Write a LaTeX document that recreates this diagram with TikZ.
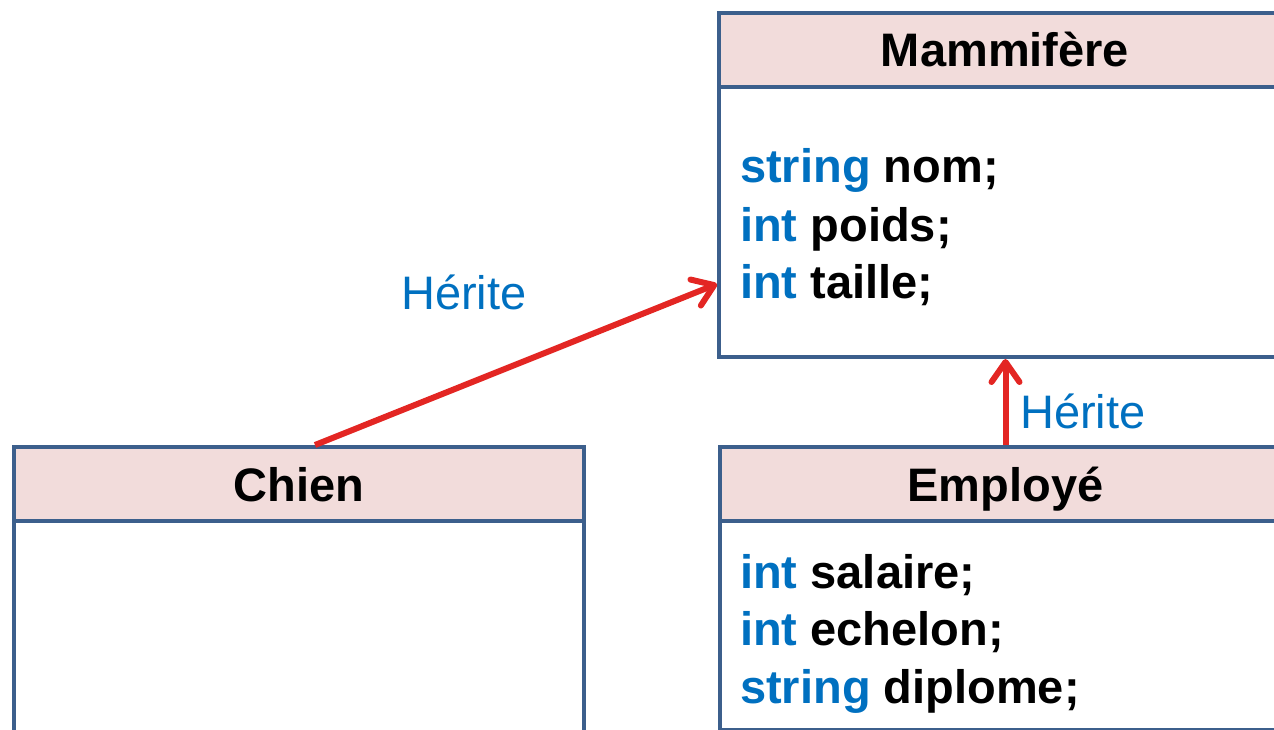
\documentclass[tikz,border=0pt]{standalone}
\usepackage{fontspec}
\setmainfont{Liberation Sans}
\usetikzlibrary{arrows.meta}
\definecolor{boxline}{RGB}{60,95,140}
\definecolor{headfill}{RGB}{242,220,219}
\definecolor{kw}{RGB}{0,112,192}
\definecolor{arr}{RGB}{227,38,35}
\tikzset{
  classhead/.style={draw=boxline, line width=4pt, fill=headfill, rectangle, inner sep=0pt,
    anchor=north west, minimum height=74pt, text height=34pt, text depth=0pt,
    font=\fontsize{47}{56}\selectfont\bfseries},
  classbody/.style={draw=boxline, line width=4pt, fill=white, rectangle, inner sep=0pt, anchor=north west},
  attr/.style={anchor=base west, inner sep=0pt, font=\fontsize{47}{56}\selectfont\bfseries},
  inherit/.style={draw=arr, line width=6pt, -{Straight Barb[length=20pt,width=28pt,line cap=round,line join=round]}},
  herlabel/.style={anchor=base west, inner sep=0pt, text=kw, font=\fontsize{47}{56}\selectfont}
}
\begin{document}
\begin{tikzpicture}[x=1pt,y=-1pt]
\useasboundingbox (0,0) rectangle (1274,730);
\clip (0,0) rectangle (1274,730);
% Mammifere
\node[classbody, minimum width=572pt, minimum height=270pt] (mamB) at (717,85) {};
\node[classhead, minimum width=572pt] (mamH) at (717,11) {Mammifère};
\node[attr] (m1) at (740,183) {\textcolor{kw}{string} nom;};
\node[attr] (m2) at (740,241) {\textcolor{kw}{int} poids;};
\node[attr] (m3) at (740,298) {\textcolor{kw}{int} taille;};
% Chien
\node[classbody, minimum width=570pt, minimum height=214pt] (chB) at (12,519) {};
\node[classhead, minimum width=570pt] (chH) at (12,445) {Chien};
% Employe
\node[classbody, minimum width=571pt, minimum height=209pt] (emB) at (718,519) {};
\node[classhead, minimum width=571pt] (emH) at (718,445) {Employé};
\node[attr] (e1) at (740,588) {\textcolor{kw}{int} salaire;};
\node[attr] (e2) at (740,645) {\textcolor{kw}{int} echelon;};
\node[attr] (e3) at (740,703) {\textcolor{kw}{string} diplome;};
% arrows
\draw[inherit] ([xshift=16pt]chH.north) -- ([yshift=-62pt]mamB.west);
\draw[inherit] (emH.north) -- (emH.north |- mamB.south);
\node[herlabel] (h1) at (401,309) {Hérite};
\node[herlabel] (h2) at (1020,428) {Hérite};
\end{tikzpicture}
\end{document}
